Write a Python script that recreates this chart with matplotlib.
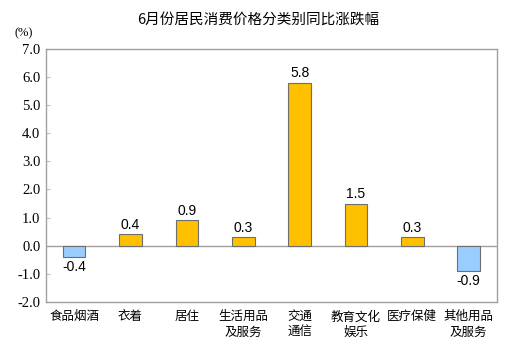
import matplotlib
matplotlib.use("Agg")
import matplotlib.pyplot as plt
import numpy as np

# 数据
categories = ["食品烟酒", "衣着", "居住", "生活用品\n及服务", "交通\n通信",
              "教育文化\n娱乐", "医疗保健", "其他用品\n及服务"]
values = [-0.4, 0.4, 0.9, 0.3, 5.8, 1.5, 0.3, -0.9]
yticks = [-2.0, -1.0, 0.0, 1.0, 2.0, 3.0, 4.0, 5.0, 6.0, 7.0]

cjk = ["Noto Sans CJK SC", "DejaVu Sans"]

fig = plt.figure(figsize=(5.17, 3.54), dpi=100)
ax = fig.add_axes([0.089, 0.147, 0.872, 0.715])

x = np.arange(len(categories))
colors = ["#99CCFF" if v < 0 else "#FFC000" for v in values]
bars = ax.bar(x, values, width=0.4, color=colors, edgecolor="#6E6E6E", linewidth=0.8, zorder=3)

for xi, v in zip(x, values):
    off = 0.08 if v >= 0 else -0.1
    ax.text(xi, v + off, f"{v:.1f}", ha="center", va="bottom" if v >= 0 else "top",
            fontsize=10, family="Liberation Sans")

ax.axhline(0, color="#A0A0A0", linewidth=1, zorder=2)

ax.set_xlim(-0.5, len(categories) - 0.5)
ax.set_ylim(-2.0, 7.0)
ax.set_yticks(yticks)
ax.set_yticklabels([f"{t:.1f}" for t in yticks], family="Liberation Serif", fontsize=10.5)
ax.set_xticks(x)
ax.set_xticklabels(categories, family=cjk, fontsize=9, linespacing=1.25, va="top")
ax.tick_params(axis="x", length=0, pad=6)
ax.tick_params(axis="y", direction="in", length=3, color="#C0C0C0", pad=4)

for s in ax.spines.values():
    s.set_color("#A0A0A0")
    s.set_linewidth(1)

fig.text(0.5, 0.944, "6月份居民消费价格分类别同比涨跌幅", ha="center", va="center",
         family=cjk, fontsize=10.5)
fig.text(0.045, 0.905, "(%)", ha="center", va="center", family="Liberation Serif", fontsize=9)

fig.savefig("out.png", dpi=100)
